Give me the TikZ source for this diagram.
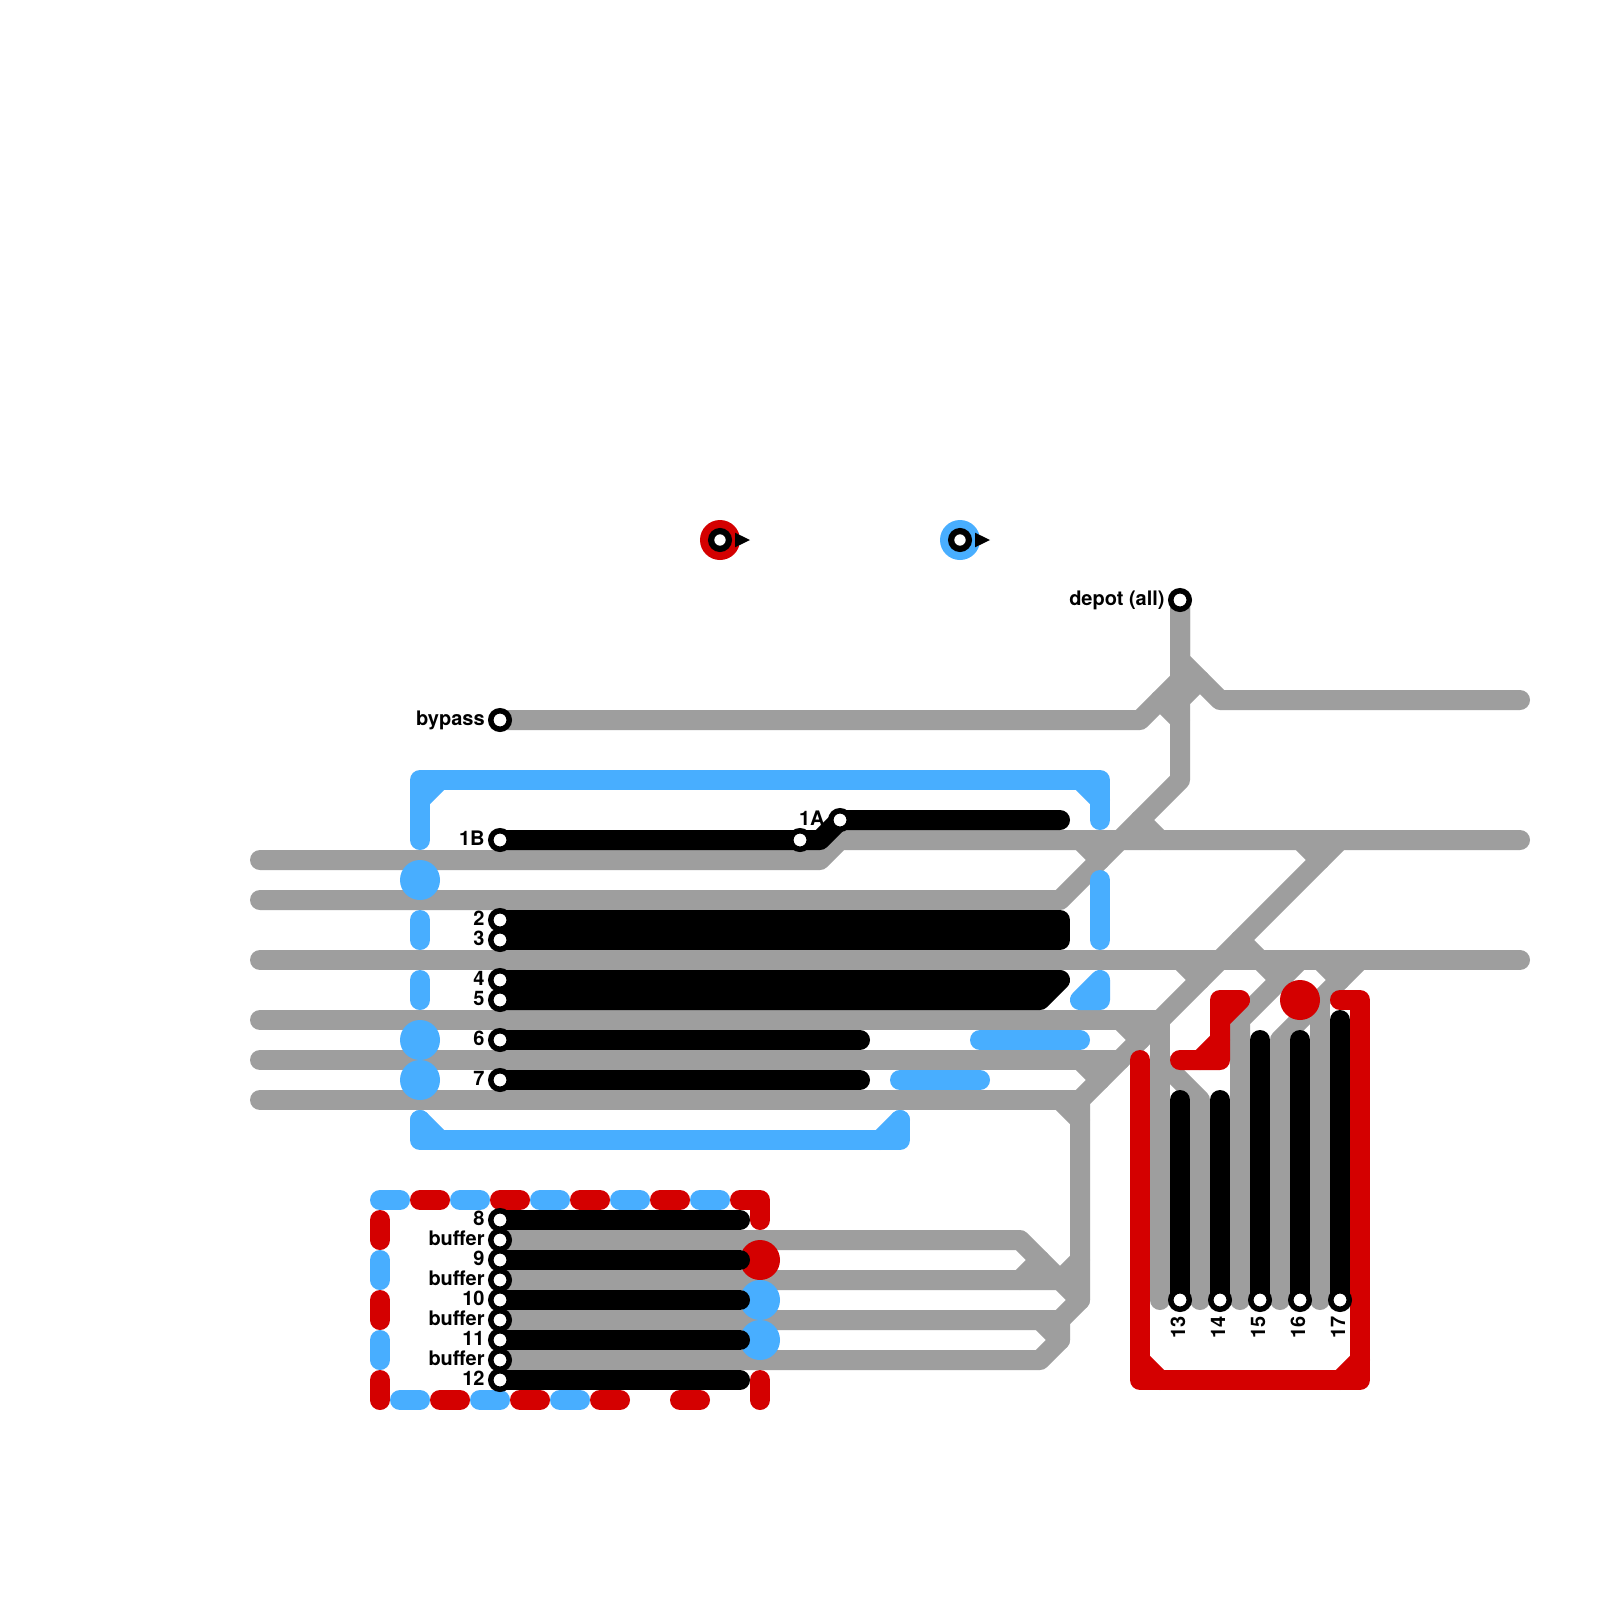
\documentclass[tikz,border=0pt]{standalone}
\usepackage{fontspec}
\setmainfont{TeX Gyre Heros}
\definecolor{trackgray}{HTML}{9E9E9E}
\definecolor{trackred}{HTML}{D40000}
\definecolor{trackblue}{HTML}{48AEFF}
\begin{document}
\begin{tikzpicture}[x=.5pt,y=-.5pt,
  trk/.style={line width=10pt,line cap=round,line join=round},
  gr/.style={trk,draw=trackgray},
  rd/.style={trk,draw=trackred},
  bl/.style={trk,draw=trackblue},
  bk/.style={trk,draw=black},
  stn/.style={circle,draw=black,fill=white,line width=2.75pt,minimum size=9.25pt,inner sep=0pt},
  stnbig/.style={circle,draw=black,fill=white,line width=3.1pt,minimum size=8.9pt,inner sep=0pt},
  lbl/.style={inner sep=0pt,anchor=base east,font=\fontsize{10}{12}\selectfont\bfseries},
  vlbl/.style={lbl,rotate=90},
  pt/.style={fill=black}]
\fill[white] (0,0) rectangle (1600,1600);
\useasboundingbox (0,0) rectangle (1600,1600);
% station positions
\foreach \n/\px/\py in {depot/1180/600,bypass/500/720,oneB/500/840,oneBb/800/840,oneA/840/820,
  two/500/920,three/500/940,four/500/980,five/500/1000,six/500/1040,seven/500/1080,
  eight/500/1220,bufa/500/1240,nine/500/1260,bufb/500/1280,ten/500/1300,bufc/500/1320,
  eleven/500/1340,bufd/500/1360,twelve/500/1380,
  th/1180/1300,fo/1220/1300,fi/1260/1300,si/1300/1300,se/1340/1300}
  {\coordinate (\n) at (\px,\py);}
% gray tracks
\draw[gr] (260,860)--(820,860)--(840,840)--(1520,840);
\draw[gr] (260,900)--(1060,900)--(1180,780)--(1180,720)--(1160,700);
\draw[gr] (bypass)--(1140,720)--(1180,680)--(depot);
\draw[gr] (depot)--(1180,660)--(1220,700)--(1520,700);
\draw[gr] (1180,720)--(1180,700)--(1200,680);
\draw[gr] (1080,840)--(1100,860);
\draw[gr] (1160,840)--(1140,820);
\draw[gr] (1300,840)--(1320,860);
\draw[gr] (1340,840)--(1080,1100)--(1080,1300)--(1060,1320);
\draw[gr] (260,960)--(1520,960);
\draw[gr] (1260,960)--(1240,940);
\draw[gr] (1180,960)--(1200,980);
\draw[gr] (1260,960)--(1280,980);
\draw[gr] (1320,960)--(1340,980);
\draw[gr] (1300,960)--(1240,1020)--(1240,1300);
\draw[gr] (1360,960)--(1280,1040)--(1280,1300);
\draw[gr] (1320,1000)--(1320,1300);
\draw[gr] (1160,1020)--(1160,1300);
\draw[gr] (1160,1060)--(1200,1100)--(1200,1300);
\draw[gr] (260,1020)--(1160,1020);
\draw[gr] (1120,1020)--(1140,1040);
\draw[gr] (260,1060)--(1120,1060);
\draw[gr] (1080,1060)--(1100,1080);
\draw[gr] (260,1100)--(1080,1100);
\draw[gr] (1060,1100)--(1080,1120);
\draw[gr] (bufa)--(1020,1240)--(1060,1280);
\draw[gr] (bufb)--(1060,1280)--(1080,1260);
\draw[gr] (1020,1280)--(1040,1260);
\draw[gr] (1060,1280)--(1080,1300);
\draw[gr] (bufc)--(1060,1320)--(1060,1340)--(1040,1360)--(bufd);
\draw[gr] (1040,1320)--(1060,1340);
% blue
\draw[bl] (420,840)--(420,780)--(1100,780)--(1100,820);
\draw[bl] (420,800)--(440,780);
\draw[bl] (1080,780)--(1100,800);
\draw[bl] (420,1120)--(420,1140)--(900,1140)--(900,1120);
\draw[bl] (420,1120)--(440,1140);
\draw[bl] (880,1140)--(900,1120);
\foreach \cy in {880,1040,1080} {\fill[trackblue] (420,\cy) circle[radius=20];}
\draw[bl] (420,920)--(420,940);
\draw[bl] (420,980)--(420,1000);
\draw[bl] (1100,880)--(1100,940);
\draw[bl] (1100,980)--(1100,1000)--(1080,1000)--cycle;
\draw[bl] (980,1040)--(1080,1040);
\draw[bl] (900,1080)--(980,1080);
% dashed frame of the lower group
\foreach \a/\b in {380/400,460/480,540/560,620/640,700/720} {\draw[bl] (\a,1200)--(\b,1200);}
\foreach \a/\b in {420/440,500/520,580/600,660/680} {\draw[rd] (\a,1200)--(\b,1200);}
\draw[rd] (740,1200)--(760,1200)--(760,1220);
\foreach \a/\b in {1220/1240,1300/1320,1380/1400} {\draw[rd] (380,\a)--(380,\b);}
\foreach \a/\b in {1260/1280,1340/1360} {\draw[bl] (380,\a)--(380,\b);}
\foreach \a/\b in {400/420,480/500,560/580} {\draw[bl] (\a,1400)--(\b,1400);}
\foreach \a/\b in {440/460,520/540,600/620,680/700} {\draw[rd] (\a,1400)--(\b,1400);}
\draw[rd] (760,1380)--(760,1400);
\fill[trackred] (760,1260) circle[radius=20];
\fill[trackblue] (760,1300) circle[radius=20];
\fill[trackblue] (760,1340) circle[radius=20];
% red
\draw[rd] (1140,1060)--(1140,1380)--(1360,1380)--(1360,1000)--(1340,1000);
\draw[rd] (1140,1360)--(1160,1380);
\draw[rd] (1360,1360)--(1340,1380);
\draw[rd] (1180,1060)--(1220,1060)--(1220,1000)--(1240,1000)--(1220,1020);
\draw[rd] (1200,1060)--(1220,1040);
\fill[trackred] (1300,1000) circle[radius=20];
% black platforms
\draw[bk] (oneB)--(820,840)--(oneA)--(1060,820);
\draw[bk] (two)--(1060,920)--(1060,940)--(three);
\draw[bk] (four)--(1060,980)--(1040,1000)--(five);
\draw[bk] (six)--(860,1040);
\draw[bk] (seven)--(860,1080);
\draw[bk] (eight)--(740,1220);
\draw[bk] (nine)--(740,1260);
\draw[bk] (ten)--(740,1300);
\draw[bk] (eleven)--(740,1340);
\draw[bk] (twelve)--(740,1380);
\draw[bk] (th)--(1180,1100);
\draw[bk] (fo)--(1220,1100);
\draw[bk] (fi)--(1260,1040);
\draw[bk] (si)--(1300,1040);
\draw[bk] (se)--(1340,1020);
% top markers
\fill[trackred] (720,540) circle[radius=20];
\fill[trackblue] (960,540) circle[radius=20];
\node[stnbig] (topred) at (720,540) {};
\node[stnbig] (topblue) at (960,540) {};
\fill[pt] (735,532.7)--(750,540)--(735,547.3)--cycle;
\fill[pt] (975,532.7)--(990,540)--(975,547.3)--cycle;
% stations
\foreach \n in {depot,bypass,oneB,oneBb,oneA,two,three,four,five,six,seven,eight,bufa,nine,bufb,ten,bufc,eleven,bufd,twelve,th,fo,fi,si,se}
  {\node[stn] (st\n) at (\n) {};}
% labels
\node[lbl] (ldepot) at (1165,605) {depot (all)};
\node[lbl] (lbypass) at (485,725) {bypass};
\node[lbl] (loneB) at (485,845) {1B};
\node[lbl] (loneA) at (825,825) {1A};
\foreach \t/\ly in {2/925,3/945,4/985,5/1005,6/1045,7/1085,8/1225,9/1265,10/1305,11/1345,12/1385}
  {\node[lbl] (l\t) at (485,\ly) {\t};}
\node[lbl] (lba) at (485,1245) {buffer};
\node[lbl] (lbb) at (485,1285) {buffer};
\node[lbl] (lbc) at (485,1325) {buffer};
\node[lbl] (lbd) at (485,1365) {buffer};
\node[vlbl] (l13) at (1185,1316) {13};
\node[vlbl] (l14) at (1225,1316) {14};
\node[vlbl] (l15) at (1265,1316) {15};
\node[vlbl] (l16) at (1305,1316) {16};
\node[vlbl] (l17) at (1345,1316) {17};
\end{tikzpicture}
\end{document}
